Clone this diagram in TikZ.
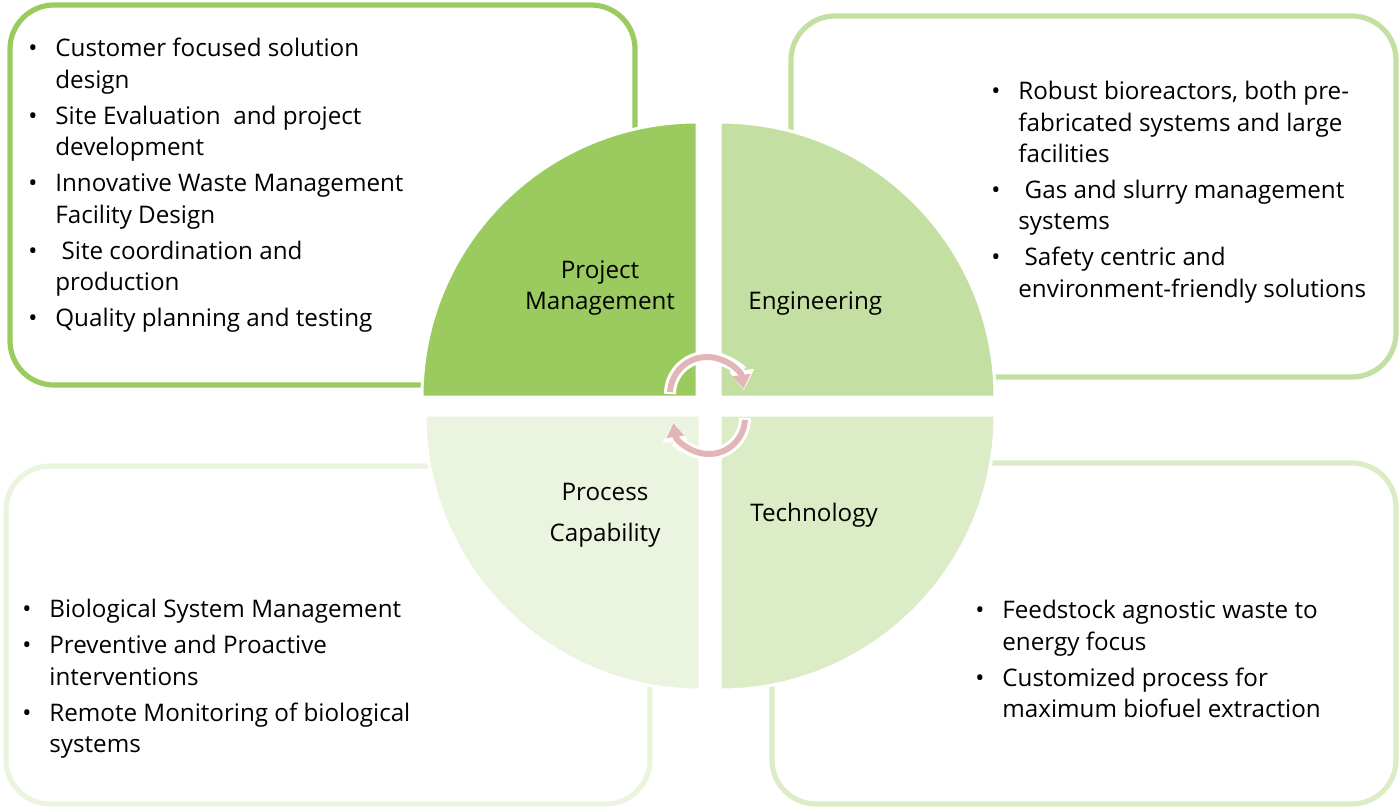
\documentclass[tikz,border=0pt]{standalone}
\usepackage{fontspec}
\setmainfont{Open Sans}
\usetikzlibrary{positioning, arrows.meta}

\definecolor{pmgreen}{HTML}{9BCB5F}
\definecolor{enggreen}{HTML}{C3E0A2}
\definecolor{pcgreen}{HTML}{EBF4DF}
\definecolor{techgreen}{HTML}{DBECC7}
\definecolor{cyclepink}{HTML}{E2B6B6}

\newcommand{\itemdot}{\llap{\textbullet\hspace{9pt}}}

\begin{document}
\begin{tikzpicture}[x=0.5pt, y=-0.5pt, font=\fontsize{12.1}{15.7}\selectfont,
    panel/.style={line width=2.6pt, rounded corners=22pt, fill=white},
    quarter/.style={draw=white, line width=1.5pt},
    items/.style={anchor=north west, align=left, inner sep=0pt},
    qlabel/.style={align=center, inner sep=0pt},
    cyclewhite/.style={white, line width=6pt, -{Triangle[length=10pt, width=12pt]}},
    cyclepinkline/.style={cyclepink, line width=3pt, -{Triangle[length=7pt, width=8.5pt]}}]
    \useasboundingbox (0,0) rectangle (1399,809);

    % panels behind the circle
    \draw[panel, draw=pmgreen] (10,5) rectangle (635,385);
    \draw[panel, draw=enggreen] (791,16) rectangle (1396,377);
    \draw[panel, draw=pcgreen] (6,466) rectangle (650,804);
    \draw[panel, draw=techgreen] (772,463) rectangle (1396,804);

    % the four quarters
    \draw[quarter, fill=pmgreen] (697,397) -- (422,397) arc[start angle=180, end angle=270, radius=275] -- cycle;
    \draw[quarter, fill=enggreen] (720,397) -- (995,397) arc[start angle=0, end angle=-90, radius=275] -- cycle;
    \draw[quarter, fill=pcgreen] (700,415) -- (425,415) arc[start angle=180, end angle=90, radius=275] -- cycle;
    \draw[quarter, fill=techgreen] (720,415) -- (995,415) arc[start angle=0, end angle=90, radius=275] -- cycle;

    \node[qlabel] (pm) at (600,288) {Project\\Management};
    \node[qlabel, anchor=west] (eng) at (748,304) {Engineering};
    \node[qlabel] (pc) at (605,515) {Process\\[5pt]Capability};
    \node[qlabel, anchor=west] (tech) at (750,515) {Technology};

    % cycle arrows
    \draw[cyclewhite] (707,394) ++(180:37) arc[start angle=180, end angle=354, radius=37];
    \draw[cyclepinkline] (707,394) ++(183:37) arc[start angle=183, end angle=352, radius=37];
    \draw[cyclewhite] (709,418) ++(0:36) arc[start angle=0, end angle=174, radius=36];
    \draw[cyclepinkline] (709,418) ++(3:36) arc[start angle=3, end angle=172, radius=36];

    \node[items] (pmitems) at (55,38) {\itemdot Customer focused solution\\design\\[2.3pt]
        \itemdot Site Evaluation\ \ and project\\development\\[2.3pt]
        \itemdot Innovative Waste Management\\Facility Design\\[2.3pt]
        \itemdot\ Site coordination and\\production\\[2.3pt]
        \itemdot Quality planning and testing};
    \node[items] (engitems) at (1018,81) {\itemdot Robust bioreactors, both pre-\\fabricated systems and large\\facilities\\[2.3pt]
        \itemdot\ Gas and slurry management\\systems\\[2.3pt]
        \itemdot\ Safety centric and\\environment-friendly solutions};
    \node[items] (pcitems) at (49,599) {\itemdot Biological System Management\\[2.3pt]
        \itemdot Preventive and Proactive\\interventions\\[2.3pt]
        \itemdot Remote Monitoring of biological\\systems};
    \node[items] (techitems) at (1002,600) {\itemdot Feedstock agnostic waste to\\energy focus\\[2.3pt]
        \itemdot Customized process for\\maximum biofuel extraction};
\end{tikzpicture}
\end{document}
